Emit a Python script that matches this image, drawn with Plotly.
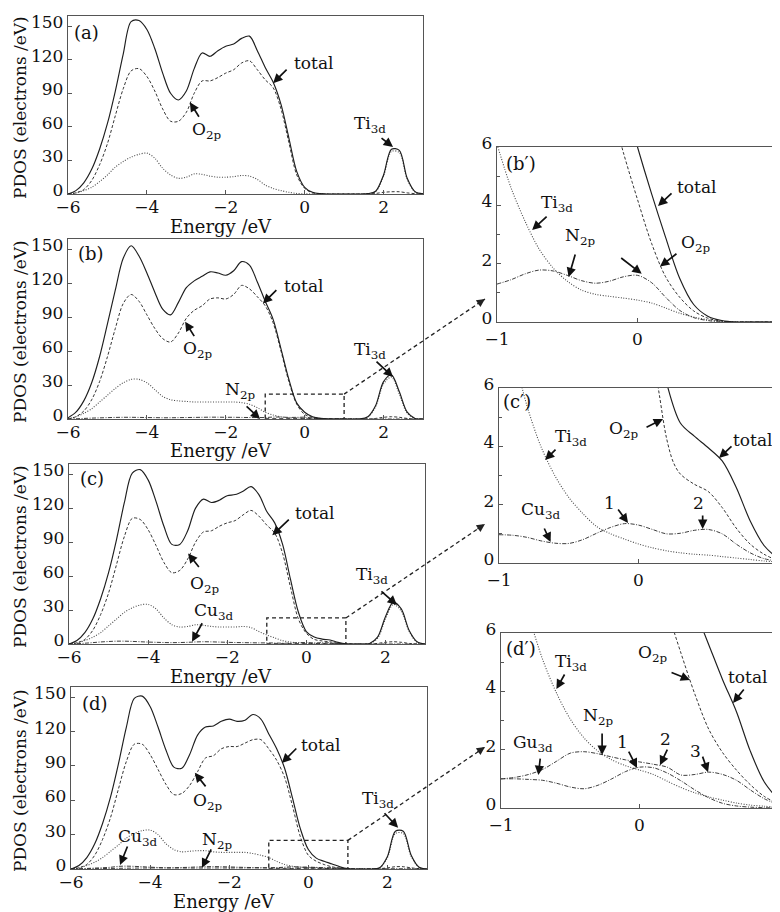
import plotly.graph_objects as go

# the page body adds an 8px margin; figure is sized so it ends at the window edge
OX, OY = 8, 8
W, H = 780 - OX, 912 - OY
FONT = "DejaVu Serif"

# ---------------- data: main panels (energy in eV, PDOS in electrons/eV) ----------------
energy = [-6.0, -5.8, -5.6, -5.4, -5.2, -5.0, -4.8, -4.6, -4.4, -4.2,
          -4.0, -3.8, -3.6, -3.4, -3.2, -3.0, -2.8, -2.6, -2.4, -2.2,
          -2.0, -1.8, -1.6, -1.4, -1.2, -1.0, -0.8, -0.6, -0.4, -0.2,
          0.0, 0.2, 0.4, 0.6, 0.8, 1.0, 1.2, 1.4, 1.6, 1.8,
          2.0, 2.2, 2.4, 2.6, 2.8, 3.0]

a_total = [0, 3, 10, 22, 40, 63, 92, 125, 154, 155, 147, 130, 108, 90, 84, 92, 112, 126, 123, 128,
           132, 134, 139, 141, 128, 113, 100, 80, 50, 20, 6, 1.5, 0.3, 0, 0, 0, 0, 0, 0.3, 2.5,
           17, 40, 39, 14, 2, 0.2]
a_o2p = [0, 1, 4, 12, 26, 45, 70, 94, 110, 112, 105, 92, 76, 65, 65, 73, 90, 101, 101, 104,
         108, 111, 117, 119, 111, 102, 95, 76, 46, 17, 5, 1, 0.2, 0, 0, 0, 0, 0, 0, 0.5,
         1.5, 2, 2, 1, 0.3, 0]
a_ti3d = [0, 1, 3, 6, 11, 17, 24, 29, 33, 35.5, 36.5, 32, 23, 17, 14, 15, 18, 17.5, 16, 15,
          15, 15.5, 16.5, 16, 13, 8, 5, 3, 1.5, 0.5, 0.2, 0, 0, 0, 0, 0, 0, 0, 0.2, 2.2,
          16, 38, 37, 13, 1.8, 0.1]

b_total = [1, 6, 16, 32, 55, 84, 114, 142, 153, 144, 129, 112, 97, 92, 103, 116, 122, 126, 130, 129,
           127, 131, 139, 136, 121, 104, 88, 62, 35, 14, 6, 2, 0.5, 0, 0, 0, 0, 0, 2, 12,
           33, 39, 24, 6, 0.5, 0]
b_o2p = [0, 2, 7, 17, 33, 55, 80, 102, 110, 104, 92, 80, 71, 68, 76, 89, 96, 100, 106, 107,
         106, 110, 118, 115, 108, 100, 85, 60, 33, 13, 4, 1.5, 0.5, 0, 0, 0, 0, 0, 0, 0.5,
         1.5, 2, 1.5, 0.5, 0, 0]
b_ti3d = [0.5, 2, 5, 9, 15, 21, 27, 32, 35, 35, 32, 26, 20, 17, 16, 15.5, 15, 15, 15, 15,
          15, 15, 14.5, 13, 10, 6, 3.5, 1.9, 1.1, 0.9, 0.75, 0.5, 0.17, 0.02, 0, 0, 0, 0, 1.5, 11,
          31, 37, 22, 5, 0.5, 0]
b_n2p = [0, 0.2, 0.5, 0.8, 1.0, 1.2, 1.4, 1.5, 1.5, 1.4, 1.3, 1.2, 1.1, 1.1, 1.2, 1.3, 1.4, 1.5, 1.6, 1.6,
         1.5, 1.5, 1.4, 1.3, 1.3, 1.3, 1.7, 1.7, 1.4, 1.45, 1.6, 0.85, 0.15, 0, 0, 0, 0, 0, 0, 0,
         0, 0, 0, 0, 0, 0]

c_total = [0, 3, 10, 22, 40, 63, 92, 125, 151, 154, 145, 126, 104, 88, 88, 100, 120, 128, 125, 127,
           131, 132, 135, 139, 132, 117, 107, 88, 57, 28, 11, 6.1, 4.35, 3.5, 1.45, 0.15, 0, 0, 0.5, 6,
           24, 37, 31, 12, 2, 0]
c_o2p = [0, 1, 4, 12, 26, 45, 70, 95, 111, 110, 101, 87, 72, 63, 65, 75, 90, 99, 100, 104,
         107, 109, 114, 118, 113, 105, 98, 80, 50, 22, 9.5, 4.05, 2.7, 1.9, 0.65, 0.08, 0, 0, 0, 0.5,
         1.5, 2, 1.5, 0.5, 0, 0]
c_ti3d = [0, 1, 3, 6, 10, 16, 22, 28, 32, 34.5, 35, 31, 23, 17, 15, 15.5, 17, 16.5, 15.5, 15,
          15, 15, 15.5, 14.5, 11, 8, 5.4, 3.0, 1.7, 1.0, 0.65, 0.42, 0.3, 0.22, 0.12, 0.04, 0, 0, 0.3, 5,
          22, 35, 29, 11, 1.5, 0]
c_cu3d = [0, 0.3, 0.7, 1.2, 1.8, 2.2, 2.5, 2.5, 2.3, 2.0, 1.7, 1.5, 1.3, 1.2, 1.3, 1.5, 1.8, 2.0, 1.9, 1.7,
          1.5, 1.3, 1.2, 1.1, 1.0, 0.97, 0.88, 0.68, 0.8, 1.22, 1.3, 1.0, 1.12, 1.0, 0.35, 0.06, 0, 0, 0, 0,
          0, 0, 0, 0, 0, 0]

d_total = [0, 3, 10, 22, 40, 63, 92, 124, 149, 151, 142, 124, 104, 89, 88, 100, 117, 124, 125, 129,
           131, 129, 130, 135, 131, 118, 105, 88, 62, 35, 17, 9.5, 6.7, 4.4, 1.9, 0.3, 0, 0, 0, 1,
           11, 33, 33, 12, 1.5, 0]
d_o2p = [0, 1, 4, 12, 26, 45, 70, 94, 109, 109, 100, 87, 74, 65, 66, 73, 85, 97, 99, 105,
         107, 107, 110, 113, 113, 105, 95, 80, 55, 28, 12, 6.8, 3.9, 1.9, 0.8, 0.15, 0, 0, 0, 0.3,
         1, 2, 2, 1, 0.3, 0]
d_ti3d = [0, 1, 3, 6, 10, 15.5, 21, 27, 31, 33.5, 34, 30, 22, 17, 15, 15.5, 16, 16, 15, 14.5,
          14.5, 14.5, 14.5, 13.5, 12, 10, 6.6, 3.95, 2.4, 1.65, 1.3, 0.92, 0.52, 0.27, 0.1, 0.03, 0, 0, 0, 1,
          10, 31, 31, 11, 1.5, 0]
d_cu3d = [0, 0.2, 0.5, 0.8, 1.1, 1.5, 2.3, 2.5, 2.3, 2.0, 1.6, 1.3, 1.0, 0.9, 0.85, 0.8, 0.8, 0.85, 0.9, 0.9,
          0.9, 0.9, 0.9, 0.95, 1.0, 1.0, 0.98, 0.85, 0.66, 1.0, 1.4, 1.2, 0.62, 0.16, 0.03, 0, 0, 0, 0, 0,
          0, 0, 0, 0, 0, 0]
d_n2p = [0, 0.1, 0.2, 0.3, 0.4, 0.5, 0.6, 0.7, 0.8, 0.85, 0.9, 0.95, 1.0, 1.1, 1.3, 1.5, 1.8, 2.0, 2.1, 2.0,
         1.8, 1.6, 1.4, 1.25, 1.1, 1.0, 1.15, 1.6, 1.93, 1.75, 1.58, 1.4, 1.15, 1.15, 0.62, 0.12, 0, 0, 0, 0,
         0, 0, 0, 0, 0, 0]

# ---------------- data: magnified windows (-1 .. 1 eV) ----------------
zoom_energy = [-1.0, -0.9, -0.8, -0.7, -0.6, -0.5, -0.4, -0.3, -0.2, -0.1, 0.0,
               0.1, 0.2, 0.3, 0.4, 0.5, 0.6, 0.7, 0.8, 0.9, 1.0]

bz_total_e = [-0.2, -0.1, 0.0, 0.1, 0.2, 0.3, 0.4, 0.5, 0.6, 0.7, 0.8, 0.9, 1.0]
bz_total = [9.4, 7.7, 6.0, 4.4, 2.9, 1.5, 0.6, 0.2, 0.05, 0.0, 0.0, 0.0, 0.0]
bz_o2p_e = [-0.3, -0.2, -0.1, 0.0, 0.1, 0.2, 0.3, 0.4, 0.5, 0.6, 0.7, 0.8, 0.9, 1.0]
bz_o2p = [9.3, 7.6, 5.8, 4.2, 2.7, 1.55, 0.85, 0.38, 0.13, 0.03, 0, 0, 0, 0]
bz_ti3d = [6.1, 4.6, 3.45, 2.5, 1.85, 1.4, 1.1, 0.95, 0.88, 0.82, 0.75, 0.65, 0.48, 0.3, 0.17, 0.08, 0.02, 0, 0, 0, 0]
bz_n2p = [1.3, 1.45, 1.65, 1.78, 1.75, 1.6, 1.42, 1.33, 1.4, 1.55, 1.6, 1.35, 0.85, 0.4, 0.15, 0.05, 0, 0, 0, 0, 0]

cz_total_e = [0.1, 0.2, 0.3, 0.4, 0.5, 0.6, 0.7, 0.8, 0.9, 1.0]
cz_total = [8.5, 6.2, 4.8, 4.35, 3.95, 3.5, 2.6, 1.45, 0.6, 0.15]
cz_o2p_e = [0.05, 0.1, 0.15, 0.2, 0.25, 0.3, 0.4, 0.5, 0.6, 0.7, 0.8, 0.9, 1.0]
cz_o2p = [8.8, 7.3, 5.75, 4.3, 3.45, 3.05, 2.7, 2.45, 1.9, 1.2, 0.65, 0.3, 0.08]
cz_ti3d = [9.5, 7.3, 5.4, 4.0, 3.0, 2.25, 1.7, 1.25, 1.0, 0.82, 0.65, 0.52, 0.42, 0.35, 0.3, 0.27, 0.22, 0.17, 0.12, 0.07, 0.04]
cz_cu3d = [0.97, 0.95, 0.88, 0.76, 0.68, 0.67, 0.8, 1.02, 1.22, 1.35, 1.3, 1.15, 1.0, 1.02, 1.12, 1.15, 1.0, 0.65, 0.35, 0.15, 0.06]

dz_total_e = [0.3, 0.4, 0.5, 0.6, 0.7, 0.8, 0.9, 1.0]
dz_total = [8.0, 6.8, 5.6, 4.4, 3.3, 1.95, 0.9, 0.3]
dz_o2p_e = [0.1, 0.2, 0.3, 0.4, 0.5, 0.6, 0.7, 0.8, 0.9, 1.0]
dz_o2p = [8.5, 6.8, 5.3, 3.9, 2.7, 1.9, 1.3, 0.8, 0.4, 0.15]
dz_ti3d = [10.0, 8.2, 6.6, 5.1, 3.95, 3.05, 2.4, 1.95, 1.65, 1.45, 1.3, 1.15, 0.92, 0.7, 0.52, 0.38, 0.27, 0.17, 0.1, 0.06, 0.03]
dz_n2p = [1.0, 1.05, 1.15, 1.32, 1.6, 1.88, 1.93, 1.86, 1.75, 1.65, 1.58, 1.5, 1.4, 1.13, 1.15, 1.23, 1.15, 0.95, 0.62, 0.32, 0.12]
dz_cu3d = [1.0, 1.0, 0.98, 0.95, 0.85, 0.72, 0.66, 0.78, 1.0, 1.25, 1.4, 1.38, 1.2, 0.93, 0.62, 0.35, 0.16, 0.07, 0.03, 0.01, 0.0]

# ---------------- styles ----------------
STY = {
    "total": dict(color="#1e1e1e", width=1.15, dash="solid"),
    "o2p": dict(color="#2a2a2a", width=0.95, dash="3px,2px"),
    "ti3d": dict(color="#4a4a4a", width=1.1, dash="1px,1.6px"),
    "n2p": dict(color="#333333", width=0.95, dash="4px,1.5px,1px,1.5px"),
    "cu3d": dict(color="#333333", width=0.95, dash="4px,1.5px,1px,1.5px"),
}

# panel geometry in window pixels: left, top, right, bottom
geom = {
    1: (68, 16, 423, 194),
    2: (68, 239, 423, 419),
    3: (69, 464, 425, 644),
    4: (71, 687, 427, 869),
    5: (497, 147, 778, 322),
    6: (499, 388, 778, 563),
    7: (501, 633, 778, 808),
}

series = {
    1: [("ti3d", energy, a_ti3d), ("o2p", energy, a_o2p), ("total", energy, a_total)],
    2: [("n2p", energy, b_n2p), ("ti3d", energy, b_ti3d), ("o2p", energy, b_o2p), ("total", energy, b_total)],
    3: [("cu3d", energy, c_cu3d), ("ti3d", energy, c_ti3d), ("o2p", energy, c_o2p), ("total", energy, c_total)],
    4: [("cu3d", energy, d_cu3d), ("n2p", energy, d_n2p), ("ti3d", energy, d_ti3d), ("o2p", energy, d_o2p),
        ("total", energy, d_total)],
    5: [("ti3d", zoom_energy, bz_ti3d), ("n2p", zoom_energy, bz_n2p), ("o2p", bz_o2p_e, bz_o2p),
        ("total", bz_total_e, bz_total)],
    6: [("ti3d", zoom_energy, cz_ti3d), ("cu3d", zoom_energy, cz_cu3d), ("o2p", cz_o2p_e, cz_o2p),
        ("total", cz_total_e, cz_total)],
    7: [("ti3d", zoom_energy, dz_ti3d), ("cu3d", zoom_energy, dz_cu3d), ("n2p", zoom_energy, dz_n2p),
        ("o2p", dz_o2p_e, dz_o2p), ("total", dz_total_e, dz_total)],
}

fig = go.Figure()
for i, lst in series.items():
    for key, xs, ys in lst:
        st = STY[key]
        fig.add_trace(go.Scatter(
            x=xs, y=ys, mode="lines", xaxis=f"x{i}", yaxis=f"y{i}",
            line=dict(color=st["color"], width=st["width"], dash=st["dash"], shape="spline", smoothing=0.9),
            showlegend=False, hoverinfo="skip"))

axis_common = dict(showline=True, mirror=True, linecolor="#555555", linewidth=1.3,
                   ticks="inside", ticklen=4, tickcolor="#555555", showgrid=False, zeroline=False,
                   automargin=False, tickfont=dict(family=FONT, size=17, color="#111111"))


def pxp(x, y):
    return (x - OX) / W, 1 - (y - OY) / H


layout = dict(width=W, height=H, margin=dict(l=0, r=0, t=0, b=0),
              paper_bgcolor="white", plot_bgcolor="white", hovermode=False, showlegend=False)
for i, (l, t, r, b) in geom.items():
    main = i <= 4
    x0, y0 = pxp(l, b)
    x1, y1 = pxp(r, t)
    xa = dict(axis_common, domain=[x0, x1], anchor=f"y{i}")
    ya = dict(axis_common, domain=[y0, y1], anchor=f"x{i}", ticklabelshift=-4)
    if main:
        xa.update(range=[-6, 3], tickvals=[-6, -4, -2, 0, 2], ticklabelstandoff=-3)
        ya.update(range=[0, 159], tickvals=[0, 30, 60, 90, 120, 150])
    else:
        xa.update(range=[-1, 1], tickvals=[-1, 0, 1], ticklabelstandoff=1)
        ya.update(range=[0, 6], tickvals=[0, 2, 4, 6],
                  minor=dict(dtick=1, ticks="inside", ticklen=2.5, tickcolor="#555555"))
    key = "" if i == 1 else str(i)
    layout[f"xaxis{key}"] = xa
    layout[f"yaxis{key}"] = ya
fig.update_layout(**layout)

annotations = []
TXT = dict(family=FONT, size=17, color="#111111")

# axis titles
for i in (1, 2, 3, 4):
    l, t, r, b = geom[i]
    cx = 221 if i < 4 else 224
    x, y = pxp(cx, b + 32)
    annotations.append(dict(xref="paper", yref="paper", x=x, y=y, text="Energy /eV", showarrow=False,
                            font=dict(family=FONT, size=18, color="#111111"), xanchor="center", yanchor="middle"))
    x, y = pxp(20, (t + b) / 2 + 3)
    annotations.append(dict(xref="paper", yref="paper", x=x, y=y, text="PDOS (electrons /eV)", showarrow=False,
                            textangle=-90, font=dict(family=FONT, size=17, color="#111111"),
                            xanchor="center", yanchor="middle"))

# panel letters
for txt, (cx, cy) in [("(a)", (86, 32)), ("(b)", (91, 253)), ("(c)", (92, 478)), ("(d)", (95, 703)),
                      ("(b′)", (521, 163)), ("(c′)", (517, 401)), ("(d′)", (521, 648))]:
    x, y = pxp(cx, cy)
    annotations.append(dict(xref="paper", yref="paper", x=x, y=y, text=txt, showarrow=False,
                            font=dict(family=FONT, size=18, color="#111111"), xanchor="center", yanchor="middle"))

# curve labels: (panel, text, head_x, head_y, tail_dx, tail_dy, text_dx, text_dy) offsets in px
labels = [
    (1, "total", -0.80, 99, 15, -15, 40, -20),
    (1, "O<sub>2p</sub>", -2.91, 82, 10, 16, 17, 28),
    (1, "Ti<sub>3d</sub>", 2.24, 42, -13, -10, -23, -22),
    (2, "total", -1.06, 102, 15, -15, 41, -18),
    (2, "O<sub>2p</sub>", -3.03, 86, 10, 16, 13, 28),
    (2, "N<sub>2p</sub>", -1.13, 0, -15, -14, -20, -28),
    (2, "Ti<sub>3d</sub>", 2.24, 37, -18, -17, -23, -27),
    (3, "total", -0.86, 96, 18, -17, 42, -22),
    (3, "O<sub>2p</sub>", -2.99, 80, 12, 15, 17, 31),
    (3, "Cu<sub>3d</sub>", -2.89, 2, 11, -20, 22, -30),
    (3, "Ti<sub>3d</sub>", 2.29, 34.5, -17, -15, -25, -29),
    (4, "total", -0.67, 92.6, 16, -16, 39, -18),
    (4, "O<sub>2p</sub>", -2.87, 84, 12, 15, 13, 29),
    (4, "Cu<sub>3d</sub>", -4.76, 3.5, 8, -20, 18, -27),
    (4, "N<sub>2p</sub>", -2.69, 1, 10, -20, 15, -27),
    (4, "Ti<sub>3d</sub>", 2.27, 36, -15, -16, -20, -28),
    (5, "Ti<sub>3d</sub>", -0.75, 3.15, 16, -15, 25, -27),
    (5, "N<sub>2p</sub>", -0.49, 1.54, 7, -24, 11, -41),
    (5, "", 0.03, 1.65, -22, -17, 0, 0),
    (5, "O<sub>2p</sub>", 0.16, 1.9, 18, -14, 36, -23),
    (5, "total", 0.146, 3.98, 15, -14, 38, -19),
    (6, "Ti<sub>3d</sub>", -0.67, 3.53, 12, -12, 26, -23),
    (6, "O<sub>2p</sub>", 0.176, 4.94, -18, 9, -39, 11),
    (6, "total", 0.577, 3.6, 14, -13, 34, -18),
    (6, "Cu<sub>3d</sub>", -0.63, 0.72, -7, -15, -10, -32),
    (6, "1", -0.075, 1.37, -11, -15, -19, -20),
    (6, "2", 0.46, 1.17, 0, -15, -4, -26),
    (7, "Ti<sub>3d</sub>", -0.60, 4.08, 9, -16, 15, -27),
    (7, "O<sub>2p</sub>", 0.365, 4.39, -20, -8, -37, -26),
    (7, "total", 0.675, 3.6, 12, -15, 15, -26),
    (7, "N<sub>2p</sub>", -0.27, 1.82, 0, -23, -4, -38),
    (7, "Gu<sub>3d</sub>", -0.73, 1.13, 2, -18, -5, -32),
    (7, "1", -0.018, 1.37, -9, -18, -15, -26),
    (7, "2", 0.148, 1.47, 8, -17, 5, -26),
    (7, "3", 0.495, 1.23, -6, -17, -13, -21),
]
for i, txt, hx, hy, tdx, tdy, sdx, sdy in labels:
    annotations.append(dict(xref=f"x{i}", yref=f"y{i}", x=hx, y=hy, ax=tdx, ay=tdy, text="",
                            showarrow=True, arrowhead=2, arrowsize=1.1, arrowwidth=1.7, arrowcolor="#111111"))
    if txt:
        annotations.append(dict(xref=f"x{i}", yref=f"y{i}", x=hx, y=hy, xshift=sdx, yshift=-sdy, text=txt,
                                showarrow=False, font=TXT, xanchor="center", yanchor="middle"))

# magnification boxes and dashed connectors
shapes = []
for i, top, end_y in [(2, 22, 299), (3, 23, 524), (4, 25, 747)]:
    shapes.append(dict(type="rect", xref=f"x{i}", yref=f"y{i}", x0=-1, x1=1, y0=0, y1=top,
                       line=dict(color="#222222", width=1.3, dash="4px,3px")))
    l, t, r, b = geom[i]
    sx, sy = pxp(l + (1 - (-6)) / 9 * (r - l), b - top / 159 * (b - t))
    ex, ey = pxp(485, end_y)
    shapes.append(dict(type="line", xref="paper", yref="paper", x0=sx, y0=sy, x1=ex, y1=ey,
                       line=dict(color="#222222", width=1.3, dash="4px,3px")))
    annotations.append(dict(xref="paper", yref="paper", x=ex, y=ey, ax=-9, ay=6, text="",
                            showarrow=True, arrowhead=2, arrowsize=1.1, arrowwidth=1.5, arrowcolor="#222222"))

fig.update_layout(annotations=annotations, shapes=shapes)
fig.write_html("out.html")
